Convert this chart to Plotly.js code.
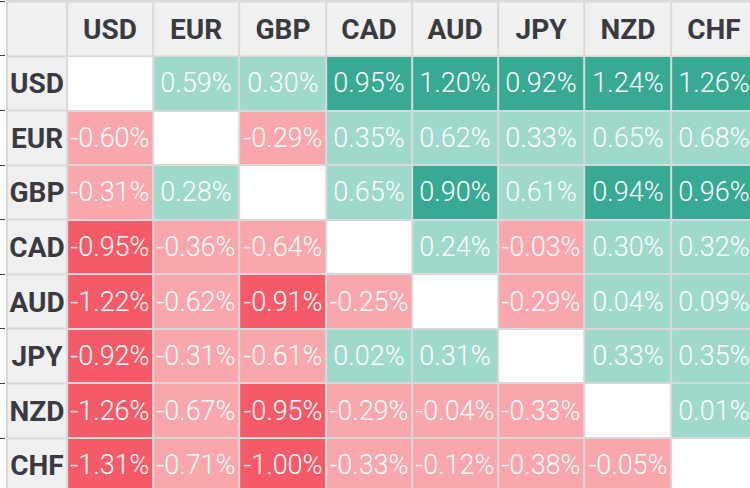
<!DOCTYPE html>
<html>
<head>
<meta charset="utf-8">
<script src="https://cdn.plot.ly/plotly-3.0.1.min.js"></script>
<style>html,body{margin:0;padding:0;background:#fff;}#chart{width:750px;height:488px;}</style>
</head>
<body>
<div id="chart"></div>
<script>
// Currency strength matrix (row currency vs column currency, % change)
const currencies = ['USD', 'EUR', 'GBP', 'CAD', 'AUD', 'JPY', 'NZD', 'CHF'];
const USD = [null, 0.59, 0.30, 0.95, 1.20, 0.92, 1.24, 1.26];
const EUR = [-0.60, null, -0.29, 0.35, 0.62, 0.33, 0.65, 0.68];
const GBP = [-0.31, 0.28, null, 0.65, 0.90, 0.61, 0.94, 0.96];
const CAD = [-0.95, -0.36, -0.64, null, 0.24, -0.03, 0.30, 0.32];
const AUD = [-1.22, -0.62, -0.91, -0.25, null, -0.29, 0.04, 0.09];
const JPY = [-0.92, -0.31, -0.61, 0.02, 0.31, null, 0.33, 0.35];
const NZD = [-1.26, -0.67, -0.95, -0.29, -0.04, -0.33, null, 0.01];
const CHF = [-1.31, -0.71, -1.00, -0.33, -0.12, -0.38, -0.05, null];

const rows = [USD, EUR, GBP, CAD, AUD, JPY, NZD, CHF];

// colour class: 0 strong down, 1 down, 2 none (diagonal), 3 up, 4 strong up
function cls(v) {
  if (v === null) return 2;
  if (v <= -0.8) return 0;
  if (v < 0) return 1;
  if (v < 0.8) return 3;
  return 4;
}
const zCls = rows.map(r => r.map(cls));
const txt = rows.map(r => r.map(v => v === null ? '' : v.toFixed(2) + '%'));

const colC = currencies.map((c, i) => i + 0.5);
const rowC = currencies.map((c, i) => i + 0.5);

const gap = 2;
const valueTrace = {
  type: 'heatmap',
  x: colC, y: rowC, z: zCls,
  zmin: 0, zmax: 4,
  colorscale: [
    [0, '#f55a68'], [0.2, '#f55a68'],
    [0.2, '#f9a6ac'], [0.4, '#f9a6ac'],
    [0.4, '#ffffff'], [0.6, '#ffffff'],
    [0.6, '#9ed9cc'], [0.8, '#9ed9cc'],
    [0.8, '#38a993'], [1, '#38a993']
  ],
  showscale: false,
  xgap: gap, ygap: gap,
  text: txt, texttemplate: '%{text}',
  textfont: {family: 'Roboto', size: 27, color: '#ffffff', weight: 300},
  hoverinfo: 'skip'
};
const headRow = {
  type: 'heatmap',
  x: colC, y: [-0.5], z: [currencies.map(() => 1)],
  colorscale: [[0, '#f0f0f0'], [1, '#f0f0f0']],
  showscale: false, xgap: gap, ygap: gap,
  text: [currencies], texttemplate: '%{text}',
  textfont: {family: 'Roboto', size: 28, color: '#3a3a42', weight: 700},
  hoverinfo: 'skip'
};
const headCol = {
  type: 'heatmap',
  x: [-0.697, 0], y: [-0.5].concat(rowC),
  z: [[1]].concat(currencies.map(() => [1])),
  colorscale: [[0, '#f0f0f0'], [1, '#f0f0f0']],
  showscale: false, xgap: gap, ygap: gap,
  text: [['']].concat(currencies.map(c => [c])), texttemplate: '%{text}',
  textfont: {family: 'Roboto', size: 28, color: '#3a3a42', weight: 700},
  hoverinfo: 'skip'
};

const layout = {
  width: 750, height: 488,
  margin: {l: 6, r: 0, t: 0, b: 0},
  paper_bgcolor: '#ffffff',
  plot_bgcolor: '#d9d9d9',
  xaxis: {range: [-0.709, 7.92], showgrid: false, zeroline: false, showticklabels: false, fixedrange: true},
  yaxis: {range: [7.916, -1.026], showgrid: false, zeroline: false, showticklabels: false, fixedrange: true},
  showlegend: false
};
Plotly.newPlot('chart', [headRow, headCol, valueTrace], layout, {displayModeBar: false, staticPlot: true});
</script>
</body>
</html>
